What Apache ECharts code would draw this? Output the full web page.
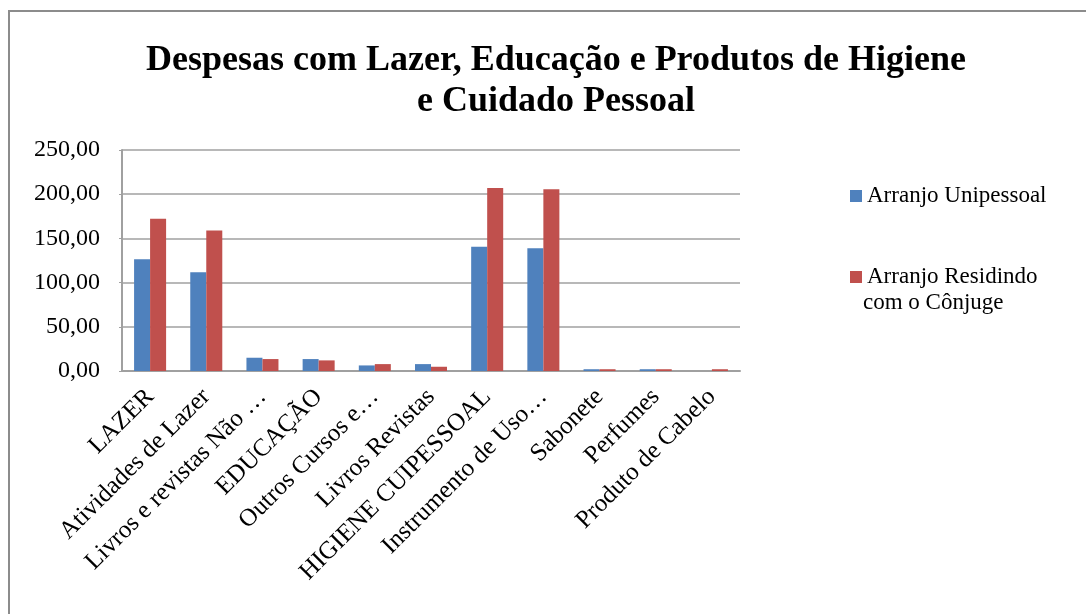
<!DOCTYPE html>
<html>
<head>
<meta charset="utf-8">
<script src="https://cdn.jsdelivr.net/npm/echarts@6/dist/echarts.min.js"></script>
<style>
html, body { margin: 0; padding: 0; background: #fff; }
#chart { width: 1086px; height: 614px; }
</style>
</head>
<body>
<div id="chart"></div>
<script>
var categorias = ['LAZER', 'Atividades de Lazer', 'Livros e revistas Não …', 'EDUCAÇÃO', 'Outros Cursos e…',
    'Livros Revistas', 'HIGIENE CUIPESSOAL', 'Instrumento de Uso…', 'Sabonete', 'Perfumes', 'Produto de Cabelo'];
var unipessoal = [126.4, 111.6, 15.0, 13.5, 6.3, 7.8, 140.6, 138.8, 2.0, 2.0, 0];
var conjuge = [172.3, 159.0, 13.5, 12.0, 7.8, 4.8, 207.0, 205.5, 2.0, 2.0, 2.0];
var nomesSeries = ['Arranjo Unipessoal', 'Arranjo Residindo'];
var legendaLinha2 = 'com o Cônjuge';

var chart = echarts.init(document.getElementById('chart'));
var fonte = '"Liberation Serif", "Times New Roman", serif';

var option = {
    backgroundColor: '#fff',
    animation: false,
    title: {
        text: 'Despesas com Lazer, Educação e Produtos de Higiene\ne Cuidado Pessoal',
        left: 551,
        top: 35,
        textAlign: 'center',
        textStyle: {
            fontFamily: fonte,
            fontWeight: 'bold',
            fontSize: 36,
            lineHeight: 41,
            color: '#000'
        }
    },
    graphic: [{
        type: 'rect',
        shape: { x: 9, y: 11, width: 1200, height: 800 },
        style: { fill: 'none', stroke: '#8c8c8c', lineWidth: 2 },
        silent: true
    }, {
        // segunda linha da legenda do cônjuge
        type: 'text',
        left: 863,
        top: 291,
        style: { text: legendaLinha2, font: '23px ' + fonte, fill: '#000' },
        silent: true
    }],
    legend: {
        orient: 'vertical',
        left: 845,
        top: 176,
        itemWidth: 12,
        itemHeight: 12,
        itemGap: 51,
        icon: 'rect',
        textStyle: { fontFamily: fonte, fontSize: 23, color: '#000', lineHeight: 30 },
        data: nomesSeries
    },
    grid: {
        left: 122,
        top: 150,
        right: 346,
        bottom: 243,
        containLabel: false
    },
    xAxis: {
        type: 'category',
        data: categorias,
        axisLine: { lineStyle: { color: '#a0a0a0', width: 2 } },
        axisTick: { show: false },
        axisLabel: {
            rotate: 45,
            interval: 0,
            margin: 22,
            fontFamily: fonte,
            fontSize: 25,
            color: '#000'
        }
    },
    yAxis: {
        type: 'value',
        min: 0,
        max: 250,
        interval: 50,
        axisLine: { show: true, lineStyle: { color: '#a0a0a0', width: 2 } },
        axisTick: { show: true, length: 3, lineStyle: { color: '#a0a0a0' } },
        splitLine: { lineStyle: { color: '#a0a0a0', width: 1.5 } },
        axisLabel: {
            margin: 22,
            fontFamily: fonte,
            fontSize: 24,
            color: '#000',
            formatter: function (v) { return v.toFixed(2).replace('.', ','); }
        }
    },
    series: [
        {
            name: nomesSeries[0],
            type: 'bar',
            data: unipessoal,
            barGap: '0%',
            barCategoryGap: '43%',
            itemStyle: { color: '#4F81BD' }
        },
        {
            name: nomesSeries[1],
            type: 'bar',
            data: conjuge,
            itemStyle: { color: '#C0504D' }
        }
    ]
};
chart.setOption(option);
</script>
</body>
</html>
